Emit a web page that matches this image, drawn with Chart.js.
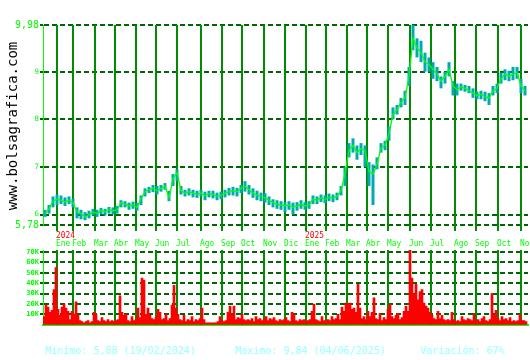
<!DOCTYPE html>
<html><head><meta charset="utf-8">
<script src="https://cdn.jsdelivr.net/npm/chart.js@4.4.1/dist/chart.umd.min.js"></script>
<style>
html,body{margin:0;padding:0;background:#fff;width:530px;height:360px;overflow:hidden;position:relative;}
#pc{position:absolute;left:0;top:0;}
#vc{position:absolute;left:0;top:240px;}
.wm{position:absolute;left:-88px;top:118px;width:200px;height:16px;line-height:16px;text-align:center;
  font:14px "DejaVu Sans Mono",monospace;color:#000;transform:rotate(-90deg);white-space:nowrap;}
.ft{position:absolute;top:345px;height:14px;line-height:14px;font:10px "DejaVu Sans Mono",monospace;color:#99ffff;white-space:pre;}
</style></head>
<body>
<canvas id="pc" width="530" height="250"></canvas>
<canvas id="vc" width="530" height="90"></canvas>
<div class="wm">www.bolsagrafica.com</div>
<div class="ft" style="left:45px">Minimo: 5,88 (19/02/2024)</div>
<div class="ft" style="left:235px">Maximo: 9,84 (04/06/2025)</div>
<div class="ft" style="left:420px">Variación: 67%</div>
<script>
// ---- data ----
const monthLabels = ['Ene','Feb','Mar','Abr','May','Jun','Jul','Ago','Sep','Oct','Nov','Dic','Ene','Feb','Mar','Abr','May','Jun','Jul','Ago','Sep','Oct','Nov'];
const monthStarts = [14,30,52,72,93,113,134,158,179,199,221,242,263,283,304,324,345,367,388,412,433,455,478]; // trading-day index
const yearLabels = ['2024','2025'];
const yearStarts = [14,263];
const priceTicks = [5.78,6,7,8,9,9.98];
const volTicks = [10,20,30,40,50,60,70];

const priceClose = [6.02,6.12,6.28,6.32,6.30,6.26,6.30,6.25,6.05,6.02, 5.95,6.00,6.05,6.02,6.08,6.06,6.10,6.08,6.10,6.25,
 6.22,6.18,6.20,6.15,6.33,6.48,6.52,6.55,6.50,6.55, 6.60,6.35,6.75,6.88,6.50,6.45,6.48,6.45,6.42,6.45,
 6.40,6.44,6.42,6.38,6.40,6.45,6.48,6.50,6.48,6.55, 6.60,6.52,6.45,6.40,6.38,6.35,6.30,6.25,6.22,6.20,
 6.18,6.20,6.15,6.18,6.22,6.18,6.20,6.32,6.30,6.35, 6.32,6.36,6.35,6.38,6.50,6.85,7.35,7.45,7.30,7.38,
 7.35,6.90,6.85,7.05,7.40,7.45,7.70,8.10,8.20,8.35, 8.45,8.90,9.70,9.50,9.40,9.20,9.15,9.05,8.95,8.80,
 8.90,9.05,8.70,8.62,8.68,8.65,8.60,8.55,8.50,8.52, 8.48,8.45,8.60,8.65,8.85,8.95,8.90,8.95,8.98,8.70, 8.60];
const priceLow = [5.95,6.02,6.15,6.20,6.22,6.18,6.22,6.15,5.92,5.90, 5.88,5.92,5.98,5.95,6.00,5.98,6.02,6.00,6.02,6.15,
 6.15,6.10,6.12,6.08,6.20,6.38,6.45,6.47,6.42,6.48, 6.52,6.28,6.60,6.70,6.42,6.38,6.40,6.36,6.35,6.38,
 6.30,6.36,6.34,6.30,6.32,6.36,6.40,6.40,6.38,6.45, 6.48,6.42,6.35,6.30,6.28,6.25,6.20,6.15,6.12,6.10,
 6.05,6.10,6.00,6.08,6.12,6.10,6.12,6.22,6.22,6.26, 6.24,6.28,6.26,6.30,6.40,6.60,7.20,7.30,7.15,7.25,
 7.00,6.60,6.20,6.95,7.30,7.35,7.55,8.00,8.10,8.25, 8.30,8.70,9.45,9.30,9.20,9.00,9.00,8.85,8.80,8.65,
 8.75,8.90,8.50,8.50,8.60,8.58,8.55,8.45,8.42,8.42, 8.38,8.30,8.50,8.55,8.75,8.82,8.80,8.82,8.85,8.55, 8.50];
const priceHigh = [6.10,6.20,6.38,6.42,6.40,6.36,6.38,6.33,6.15,6.10, 6.05,6.08,6.12,6.10,6.14,6.12,6.16,6.15,6.18,6.30,
 6.28,6.25,6.27,6.24,6.40,6.55,6.58,6.62,6.60,6.62, 6.66,6.50,6.85,6.95,6.60,6.52,6.55,6.52,6.50,6.52,
 6.48,6.50,6.50,6.46,6.48,6.52,6.56,6.58,6.56,6.62, 6.70,6.62,6.55,6.50,6.46,6.45,6.38,6.32,6.30,6.28,
 6.26,6.28,6.25,6.26,6.30,6.26,6.28,6.40,6.38,6.42, 6.40,6.44,6.42,6.46,6.60,7.00,7.50,7.60,7.45,7.50,
 7.45,7.10,7.05,7.20,7.50,7.55,7.85,8.25,8.30,8.45, 8.60,9.10,9.98,9.70,9.65,9.40,9.30,9.20,9.10,8.90,
 9.00,9.20,8.80,8.75,8.75,8.72,8.70,8.65,8.58,8.60, 8.58,8.55,8.70,8.75,8.98,9.05,9.02,9.10,9.10,8.85, 8.70];
const volumeK = [8,19,17,12,14,34,55,15,9,17, 20,16,13,5,13,10,22,9,4,3, 2,3,4,2,3,12,10,4,3,7,
 4,3,5,3,4,3,4,5,28,12, 9,10,4,3,8,4,5,16,7,45, 43,10,16,9,6,5,7,15,12,5,
 6,10,4,6,19,38,16,10,5,4, 9,3,5,4,8,3,5,4,6,16, 5,2,2,2,2,2,2,3,8,4,
 3,4,12,18,9,18,5,7,6,10, 5,4,5,4,6,3,8,5,6,4, 5,8,4,6,5,7,4,3,5,4,
 5,7,4,3,12,10,4,3,5,4, 5,3,4,5,13,20,5,4,3,8, 4,3,5,4,8,5,6,10,5,17,
 13,21,20,21,15,16,12,39,16,6, 8,5,13,8,12,26,6,5,11,4, 7,5,15,20,8,6,9,11,5,7,
 13,18,13,72,45,29,39,24,32,34, 21,18,16,12,9,6,5,13,6,9, 5,4,5,4,12,5,3,4,3,8,
 5,4,6,5,4,11,4,5,3,6, 8,4,3,5,30,9,14,6,4,8, 5,6,4,7,3,4,3,4,10,4, 4,3];
// sampling of the series along the trading-day axis
const DAYS = 485, priceStart = 2, priceStep = 4, volStart = 1, volStep = 2;

// ---- styles ----
const LIME = '#00ff00', VGRID = '#008c00', HGRID = '#006400', MONO = '"DejaVu Sans Mono", monospace';
Chart.defaults.font.family = MONO;

// vertical month lines, placed through the x scale
const monthLines = (extraBelow) => ({
  id: 'monthLines',
  beforeDatasetsDraw(chart) {
    const {ctx, chartArea: a, scales: {x}} = chart;
    ctx.save();
    ctx.strokeStyle = VGRID; ctx.lineWidth = 2;
    monthStarts.forEach(m => {
      const px = Math.round(x.getPixelForValue(m));
      ctx.beginPath(); ctx.moveTo(px, a.top); ctx.lineTo(px, a.bottom + extraBelow); ctx.stroke();
    });
    ctx.restore();
  }
});

const monthPlugin = {
  id: 'monthLabels',
  afterDraw(chart) {
    const {ctx, scales: {x}} = chart;
    ctx.save();
    ctx.textBaseline = 'middle'; ctx.textAlign = 'left';
    ctx.font = '9px ' + MONO;
    monthStarts.forEach((m, i) => {
      const px = x.getPixelForValue(m);
      ctx.save(); ctx.translate(px - 1, 244); ctx.scale(0.87, 1);
      ctx.fillStyle = LIME; ctx.fillText(monthLabels[i], 0, 0); ctx.restore();
    });
    yearStarts.forEach((m, i) => {
      const px = x.getPixelForValue(m);
      ctx.save(); ctx.translate(px - 1, 236); ctx.scale(0.87, 1);
      ctx.fillStyle = '#ff0000'; ctx.fillText(yearLabels[i], 0, 0); ctx.restore();
    });
    ctx.restore();
  }
};

new Chart(document.getElementById('pc'), {
  data: {
    datasets: [
      { type: 'bar', order: 2, data: priceLow.map((lo, k) => ({x: priceStart + k * priceStep, y: [lo, priceHigh[k]]})),
        backgroundColor: '#00aab4', borderWidth: 0, barPercentage: 0.75, categoryPercentage: 1, grouped: false },
      { type: 'line', order: 1, data: priceClose.map((v, k) => ({x: priceStart + k * priceStep, y: v})),
        borderColor: LIME, borderWidth: 1.3, pointRadius: 0, tension: 0, fill: false }
    ]
  },
  options: {
    responsive: false, animation: false, devicePixelRatio: 1,
    layout: {padding: {top: 25, right: 2, left: 0, bottom: 0}},
    plugins: {legend: {display: false}, tooltip: {enabled: false}},
    scales: {
      x: { type: 'linear', min: 0, max: DAYS, offset: false,
        afterFit: s => { s.height = 25; },
        ticks: {display: false},
        grid: {display: false},
        border: {display: false} },
      y: { min: priceTicks[0], max: priceTicks[priceTicks.length - 1],
        afterBuildTicks: s => { s.ticks = priceTicks.map(v => ({value: v})); },
        afterFit: s => { s.width = 43; },
        ticks: { color: LIME, padding: 1,
          callback: v => String(v).replace('.', ','),
          font: c => (c.tick && (c.tick.value === priceTicks[0] || c.tick.value === priceTicks[priceTicks.length - 1]))
                 ? {family: MONO, size: 10} : {family: MONO, size: 7.5} },
        grid: {color: HGRID, lineWidth: 2, drawTicks: true, tickLength: 3, tickColor: HGRID},
        border: {display: true, color: LIME, width: 1, dash: [5, 3]} }
    }
  },
  plugins: [monthLines(6), monthPlugin]
});

new Chart(document.getElementById('vc'), {
  type: 'bar',
  data: {
    datasets: [
      { data: volumeK.map((v, k) => ({x: volStart + k * volStep, y: v})),
        backgroundColor: '#ff0000', borderWidth: 0, barPercentage: 1, categoryPercentage: 1 }
    ]
  },
  options: {
    responsive: false, animation: false, devicePixelRatio: 1,
    layout: {padding: {top: 10, right: 2, left: 0, bottom: 0}},
    plugins: {legend: {display: false}, tooltip: {enabled: false}},
    scales: {
      x: { type: 'linear', min: 0, max: DAYS, offset: false,
        afterFit: s => { s.height = 4; },
        ticks: {display: false},
        grid: {display: false},
        border: {display: true, color: LIME, width: 2} },
      y: { min: 0, max: 72,
        afterBuildTicks: s => { s.ticks = volTicks.map(v => ({value: v})); },
        afterFit: s => { s.width = 43; },
        ticks: { color: LIME, padding: 1, font: {family: MONO, size: 7, weight: 'bold'}, callback: v => v + 'K' },
        grid: {color: HGRID, lineWidth: 2, drawTicks: true, tickLength: 3, tickColor: HGRID},
        border: {display: true, color: LIME, width: 1, dash: [5, 3]} }
    }
  },
  plugins: [monthLines(0)]
});
</script>
</body></html>
